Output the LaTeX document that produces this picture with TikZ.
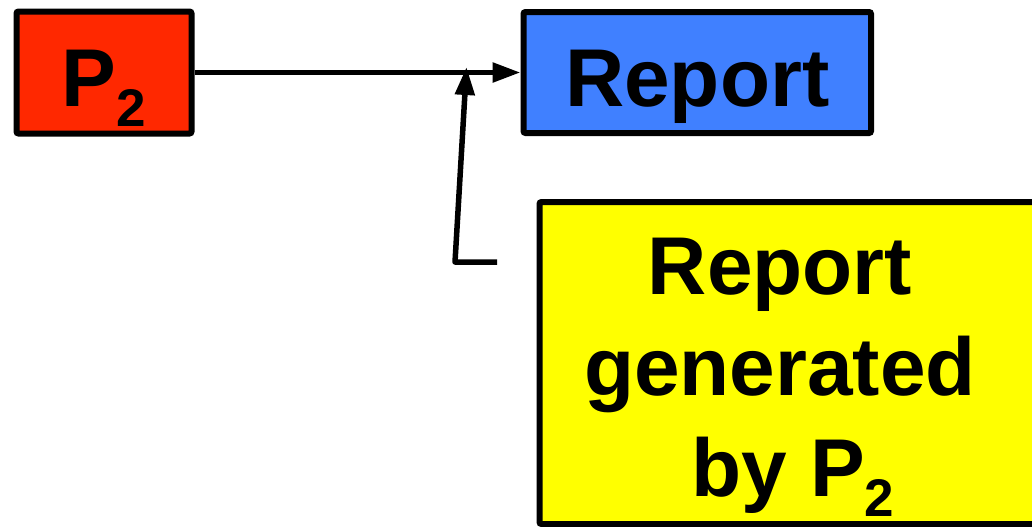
\documentclass[tikz,border=0pt]{standalone}
\usepackage{fontspec}
\setmainfont{Liberation Sans}
\usetikzlibrary{arrows.meta}
\usetikzlibrary{positioning}
\definecolor{procred}{RGB}{255,40,0}
\definecolor{reportblue}{RGB}{64,128,255}
\definecolor{noteyellow}{RGB}{255,255,0}
\newcommand{\Psub}[1]{P\raisebox{-10pt}{\fontsize{26.5pt}{26.5pt}\selectfont #1}}
\tikzset{
    boxed/.style={
           rectangle, rounded corners=1pt,
           draw=black, line width=3pt,
           font=\fontsize{41pt}{51pt}\selectfont\bfseries,
           text height=40pt, text depth=6.5pt,
           },
}
\tikzset{
    link/.style={
           line width=2.75pt, line join=round,
           -{Triangle[length=14pt,width=9.5pt]},
           },
}

\begin{document}
\begin{tikzpicture}[x=0.5pt,y=-0.5pt]
\useasboundingbox (0,0) rectangle (1032,526);
\clip (0,0) rectangle (1032,526);
\node[boxed,fill=procred,minimum width=87.5pt,minimum height=61pt](p2) at (104,72.5){\Psub{2}};
\node[boxed,fill=reportblue,minimum width=173.75pt,minimum height=60.5pt,right=163pt of p2](report){Report};
\node[boxed,fill=noteyellow,minimum width=260pt,minimum height=161pt,anchor=north west](note) at (536.5,199){};
\node[font=\fontsize{41pt}{50.5pt}\selectfont\bfseries,align=center,anchor=base](notetext) at (780,496){Report\\generated\\\hspace*{13pt}by \Psub{2}};
\coordinate (tail) at (497,262);
\coordinate (bend) at (455,262);
\coordinate (pin) at (466.5,67);
\draw[link] (p2) -- (report);
\draw[link] (tail) -- (bend) -- (pin);
\end{tikzpicture}
\end{document}
